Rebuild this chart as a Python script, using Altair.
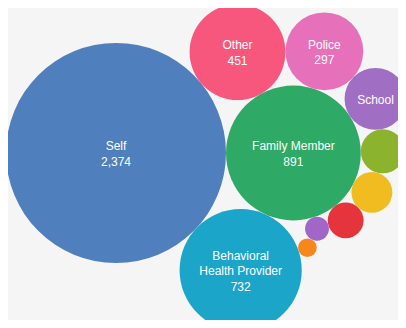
import math
import altair as alt
import pandas as pd

# ---- data ----
names = ["Self", "Family Member", "Behavioral Health Provider", "Other", "Police",
         "School", "Medical Provider", "Friend", "Court", "Clergy", "Anonymous"]
values = [2374, 891, 732, 451, 297, 188, 95, 82, 63, 28, 17]
labels = ["Self\n2,374", "Family Member\n891", "Behavioral\nHealth Provider\n732",
          "Other\n451", "Police\n297", "School", "", "", "", "", ""]
colors = ["#4f7fbd", "#2eaa66", "#1ba5c9", "#f7577d", "#e670b9", "#a06fc3",
          "#8bb32e", "#f0bc1f", "#e5343c", "#a067c9", "#f7871a"]

# ---- packing layout (each bubble tangent to two earlier ones) ----
W, H = 390, 312
R_MAX = 110.0
LINE_H = 15.5
k = R_MAX / math.sqrt(max(values))
radii = [k * math.sqrt(v) for v in values]

# neighbours: (first, second, side)
neighbours = {
    2: (0, 1, 1),
    3: (0, 1, -1),
    4: (3, 1, -1),
    5: (4, 1, -1),
    6: (5, 1, -1),
    7: (6, 1, -1),
    8: (7, 1, -1),
    9: (8, 1, -1),
    10: (9, 2, -1),
}


def tangent(a, b, r, side):
    (xa, ya, ra), (xb, yb, rb) = a, b
    d1, d2 = ra + r, rb + r
    dx, dy = xb - xa, yb - ya
    d = math.hypot(dx, dy)
    ux, uy = dx / d, dy / d
    nx, ny = -uy, ux
    p = (d1 * d1 - d2 * d2 + d * d) / (2 * d)
    h = math.sqrt(max(d1 * d1 - p * p, 0))
    return (xa + p * ux + side * h * nx, ya + p * uy + side * h * ny, r)


circles = [None] * len(values)
circles[0] = (108.0, 145.0, radii[0])
circles[1] = (circles[0][0] + radii[0] + radii[1], circles[0][1], radii[1])
for i in range(2, len(values)):
    a, b, s = neighbours[i]
    circles[i] = tangent(circles[a], circles[b], radii[i], s)

df = pd.DataFrame({
    "name": names,
    "value": values,
    "label": labels,
    "color": colors,
    "x": [c[0] for c in circles],
    "y": [c[1] for c in circles],
})

xs = alt.Scale(domain=[0, W], nice=False)
ys = alt.Scale(domain=[0, H], reverse=True, nice=False)

base = alt.Chart(df).encode(
    x=alt.X("x:Q", scale=xs, axis=None),
    y=alt.Y("y:Q", scale=ys, axis=None),
)

bubbles = base.mark_circle(opacity=1).encode(
    size=alt.Size("value:Q", legend=None,
                  scale=alt.Scale(type="linear", domain=[0, max(values)],
                                  range=[0, 4 * R_MAX * R_MAX])),
    color=alt.Color("color:N", scale=None),
    tooltip=["name:N", "value:Q"],
)

text_layers = []
for n_lines in (1, 2, 3):
    text_layers.append(
        base.transform_calculate(
            nl="length(split(datum.label, '\\n'))"
        ).transform_filter(
            f"datum.label != '' && datum.nl == {n_lines}"
        ).mark_text(
            align="center", baseline="middle", color="white",
            font="Liberation Sans", fontSize=12, lineHeight=LINE_H,
            lineBreak="\n", dy=1 - (n_lines - 1) * LINE_H / 2,
        ).encode(text="label:N")
    )

chart = alt.layer(bubbles, *text_layers).properties(
    width=W, height=H, padding=0, autosize="none", background="#f5f5f5"
).configure_view(stroke=None)

chart.save("out.html", embed_options={"renderer": "svg", "actions": False})
